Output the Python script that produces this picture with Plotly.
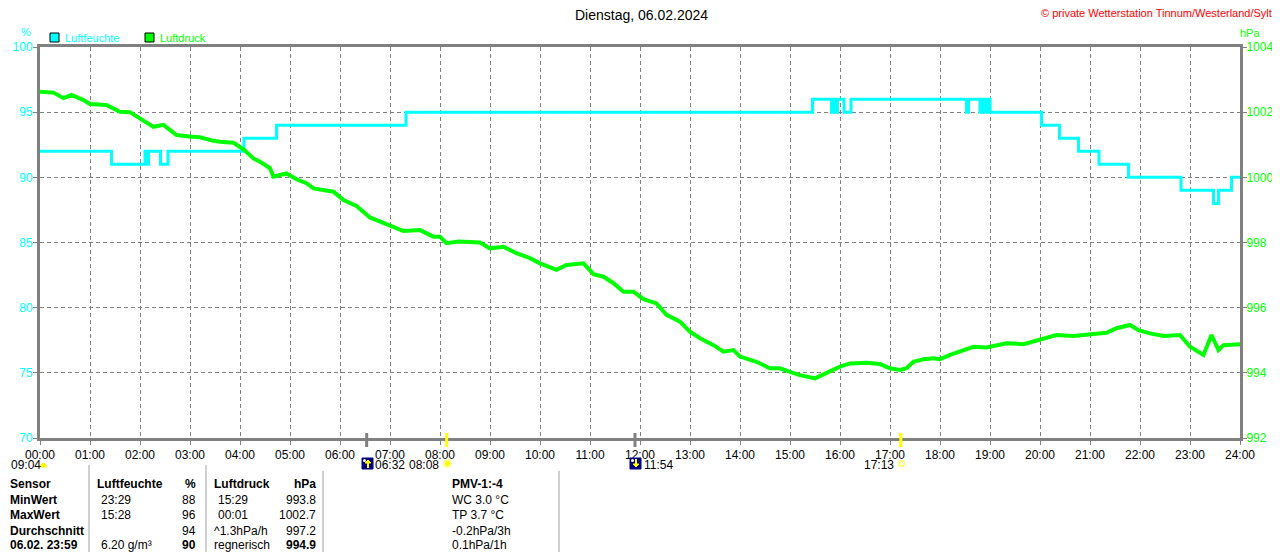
import plotly.graph_objs as go

################################## DATA ########################################
hour_ticks = [0, 1, 2, 3, 4, 5, 6, 7, 8, 9, 10, 11, 12,
              13, 14, 15, 16, 17, 18, 19, 20, 21, 22, 23, 24]
hour_labels = ['00:00', '01:00', '02:00', '03:00', '04:00', '05:00', '06:00',
               '07:00', '08:00', '09:00', '10:00', '11:00', '12:00', '13:00',
               '14:00', '15:00', '16:00', '17:00', '18:00', '19:00', '20:00',
               '21:00', '22:00', '23:00', '24:00']
hum_ticks = [70, 75, 80, 85, 90, 95, 100]
hpa_ticks = [992, 994, 996, 998, 1000, 1002, 1004]

# Luftfeuchte (%), step line
hum_time = [0.0, 1.43, 2.10, 2.14, 2.17, 2.41, 2.56, 4.08, 4.73, 7.32,
            15.45, 15.83, 15.87, 15.91, 15.95, 16.08, 16.22, 18.53, 18.57,
            18.80, 18.85, 18.90, 18.95, 19.00, 20.03, 20.39, 20.77, 21.18,
            21.77, 22.82, 23.47, 23.57, 23.83, 24.0]
hum_val = [92, 91, 92, 91, 92, 91, 92, 93, 94, 95,
           96, 95, 96, 95, 96, 95, 96, 95, 96,
           95, 96, 95, 96, 95, 94, 93, 92, 91,
           90, 89, 88, 89, 90, 90]

# Luftdruck (hPa)
hpa_time = [0.0, 0.27, 0.47, 0.63, 0.87, 1.0, 1.33, 1.6, 1.8, 2.0, 2.27, 2.47,
            2.73, 3.0, 3.2, 3.47, 3.6, 3.87, 4.07, 4.27, 4.4, 4.6, 4.67, 4.8,
            4.93, 5.13, 5.33, 5.47, 5.67, 5.87, 6.07, 6.33, 6.6, 6.93, 7.27,
            7.6, 7.87, 8.0, 8.13, 8.37, 8.6, 8.8, 9.0, 9.27, 9.53, 9.8, 10.0,
            10.33, 10.53, 10.87, 11.07, 11.27, 11.47, 11.67, 11.87, 12.07,
            12.33, 12.53, 12.8, 13.0, 13.2, 13.47, 13.67, 13.87, 14.0, 14.33,
            14.6, 14.8, 15.0, 15.2, 15.5, 15.73, 16.0, 16.2, 16.53, 16.8,
            17.0, 17.2, 17.33, 17.47, 17.67, 17.87, 18.0, 18.2, 18.4, 18.67,
            18.93, 19.13, 19.33, 19.67, 20.0, 20.33, 20.67, 21.0, 21.33,
            21.53, 21.8, 21.97, 22.2, 22.47, 22.8, 23.0, 23.27, 23.43, 23.57,
            23.67, 24.0]
hpa_val = [1002.63, 1002.60, 1002.43, 1002.53, 1002.37, 1002.25, 1002.22,
           1002.01, 1002.00, 1001.81, 1001.55, 1001.61, 1001.30, 1001.25,
           1001.23, 1001.12, 1001.09, 1001.06, 1000.86, 1000.58, 1000.48,
           1000.28, 1000.02, 1000.07, 1000.12, 999.94, 999.82, 999.66,
           999.61, 999.56, 999.30, 999.12, 998.77, 998.57, 998.35, 998.38,
           998.18, 998.18, 997.98, 998.03, 998.02, 998.00, 997.82, 997.87,
           997.67, 997.52, 997.36, 997.16, 997.31, 997.36, 997.03, 996.95,
           996.75, 996.49, 996.49, 996.26, 996.13, 995.78, 995.57, 995.26,
           995.06, 994.85, 994.65, 994.70, 994.50, 994.34, 994.14, 994.14,
           994.03, 993.93, 993.83, 993.99, 994.19, 994.29, 994.31, 994.27,
           994.14, 994.09, 994.14, 994.34, 994.42, 994.45, 994.42, 994.55,
           994.65, 994.80, 994.78, 994.85, 994.91, 994.88, 995.01, 995.16,
           995.13, 995.19, 995.23, 995.37, 995.47, 995.31, 995.21, 995.13,
           995.16, 994.80, 994.55, 995.16, 994.70, 994.85, 994.88]

# Mond auf / Sonne auf / Mond unter / Sonne unter
event_labels = ['06:32', '08:08', '11:54', '17:13']
event_colors = ['#808080', '#FFFF00', '#808080', '#FFFF00']

# Tabelle unten
table_rows = [
    ['Sensor', 'Luftfeuchte', '%', 'Luftdruck', 'hPa', 'PMV-1:-4'],
    ['MinWert', '23:29', '88', '15:29', '993.8', 'WC 3.0 °C'],
    ['MaxWert', '15:28', '96', '00:01', '1002.7', 'TP 3.7 °C'],
    ['Durchschnitt', '', '94', '^1.3hPa/h', '997.2', '-0.2hPa/3h'],
    ['06.02. 23:59', '6.20 g/m³', '90', 'regnerisch', '994.9', '0.1hPa/1h'],
]

CYAN = '#00FFFF'
GREEN = '#00FF00'
GRAY = '#808080'
FONT = 'Liberation Sans, Arial, sans-serif'

# the page body has an 8px margin, so the figure starts at (8, 8) in the window
OFFSET = 8


################################# FUNCTIONS ####################################
'''
Window pixel position -> paper coordinates (plot area is x 40..1240, y 47..438).
'''
def px(x):
    return (x - 40) / 1200.0


def py(y):
    return (438 - y) / 391.0


def text(x, y, s, color='black', size=12, anchor='left', bold=False):
    if bold:
        s = '<b>' + s + '</b>'
    return dict(x=px(x), y=py(y), xref='paper', yref='paper', text=s,
                showarrow=False, xanchor=anchor, yanchor='middle',
                font=dict(family=FONT, size=size, color=color))


def rect(x0, y0, x1, y1, fill, line='black', width=1):
    return dict(type='rect', xref='paper', yref='paper',
                x0=px(x0), x1=px(x1), y0=py(y1), y1=py(y0),
                fillcolor=fill, line=dict(color=line, width=width))


def hhmm(s):
    h, m = s.split(':')
    return int(h) + int(m) / 60.0


'''
Axes, frame and dashed grid.
'''
def chart_layout():
    axis = dict(showline=True, linecolor=GRAY, linewidth=3, mirror=True,
                ticks='outside', ticklen=4, tickcolor=GRAY, zeroline=False,
                fixedrange=True, automargin=False)
    height = 552 - OFFSET
    layout = go.Layout(
        width=1280 - OFFSET, height=height, autosize=False,
        margin=dict(l=40 - OFFSET, r=40, t=47 - OFFSET,
                    b=height - (47 - OFFSET) - 391, pad=0, autoexpand=False),
        paper_bgcolor='white', plot_bgcolor='white',
        font=dict(family=FONT, size=12, color='black'),
        showlegend=False, hovermode=False,
        xaxis=dict(axis, range=[0, 24], tickvals=hour_ticks,
                   ticktext=hour_labels, showgrid=True, gridcolor=GRAY,
                   gridwidth=1, griddash='4px,3px',
                   tickfont=dict(color='black', size=12)),
        yaxis=dict(axis, range=[70, 100], tickvals=hum_ticks, showgrid=True,
                   gridcolor=GRAY, gridwidth=1, griddash='4px,3px',
                   ticklabelstandoff=-2,
                   tickfont=dict(color=CYAN, size=12)),
        yaxis2=dict(axis, range=[992, 1004], tickvals=hpa_ticks,
                    overlaying='y', side='right', showgrid=False,
                    ticklabelstandoff=-3,
                    tickfont=dict(color=GREEN, size=12)),
    )
    return layout


def build_annotations():
    ann = []
    ann.append(text(641, 15, 'Dienstag, 06.02.2024', size=14, anchor='center'))
    ann.append(text(1274, 13, '© private Wetterstation Tinnum/Westerland/Sylt',
                    color='#FF0000', size=11, anchor='right'))
    ann.append(text(26, 32, '%', color=CYAN, size=11, anchor='center'))
    ann.append(text(1250, 33, 'hPa', color=GREEN, size=11, anchor='center'))
    ann.append(text(63, 38, 'Luftfeuchte', color=CYAN, size=11))
    ann.append(text(158, 38, 'Luftdruck', color=GREEN, size=11))

    # Zeiten unter der Achse
    ann.append(text(9, 465, '09:04'))
    ann.append(text(373, 465, event_labels[0]))
    ann.append(text(441, 465, event_labels[1], anchor='right'))
    ann.append(text(642, 465, event_labels[2]))
    ann.append(text(896, 465, event_labels[3], anchor='right'))

    # Tabelle (last row pulled up a little so it stays on the page)
    row_y = [484, 499.5, 515, 530.5, 545]
    for i, row in enumerate(table_rows):
        head = i == 0
        ann.append(text(8, row_y[i], row[0], bold=True))
        ann.append(text(95 if head else 99, row_y[i], row[1], bold=head))
        ann.append(text(198, row_y[i], row[2], anchor='right',
                        bold=head or i == 4))
        ann.append(text(212 if (head or i >= 3) else 216, row_y[i], row[3],
                        bold=head))
        ann.append(text(318, row_y[i], row[4], anchor='right',
                        bold=head or i == 4))
        ann.append(text(450, row_y[i], row[5], bold=head))
    return ann


def build_shapes():
    shapes = []
    # Legende
    shapes.append(rect(50, 33, 59, 42, CYAN))
    shapes.append(rect(145, 33, 154, 42, GREEN))

    # Ereignis-Striche auf der x-Achse
    for lab, col in zip(event_labels, event_colors):
        t = hhmm(lab)
        shapes.append(dict(type='line', xref='x', yref='paper', x0=t, x1=t,
                           y0=py(447), y1=py(433),
                           line=dict(color=col, width=3)))

    # Symbole
    shapes.append(dict(type='path', xref='paper', yref='paper',
                       path='M {} {} Q {} {} {} {} Z'.format(
                           px(40), py(467), px(43), py(459), px(47), py(467)),
                       fillcolor='#FFFF00', line=dict(color='#FFFF00', width=1)))
    for x0, up in [(362, True), (630, False)]:
        shapes.append(rect(x0, 458, x0 + 11, 469, '#000080', line='#000080'))
        shapes.append(dict(type='circle', xref='paper', yref='paper',
                           x0=px(x0 + 1), x1=px(x0 + 4), y0=py(462), y1=py(459),
                           fillcolor='white', line=dict(color='white', width=0)))
        tip, tail = (460, 468) if up else (467, 459)
        shapes.append(dict(type='line', xref='paper', yref='paper',
                           x0=px(x0 + 6), x1=px(x0 + 6), y0=py(tail), y1=py(tip),
                           line=dict(color='#FFFF00', width=2)))
        shapes.append(dict(type='path', xref='paper', yref='paper',
                           path='M {} {} L {} {} L {} {} Z'.format(
                               px(x0 + 3), py(tip + (3 if up else -3)),
                               px(x0 + 9), py(tip + (3 if up else -3)),
                               px(x0 + 6), py(tip)),
                           fillcolor='#FFFF00', line=dict(color='#FFFF00', width=1)))
    shapes.append(dict(type='circle', xref='paper', yref='paper',
                       x0=px(444), x1=px(451), y0=py(467), y1=py(460),
                       fillcolor='#FFFF00', line=dict(color='#FFFF99', width=2)))
    shapes.append(rect(899, 461, 904, 466, 'white', line='#FFFF00'))

    # Tabellen-Trennlinien
    for x, y0 in [(89, 465), (206, 465), (323, 471), (559, 471)]:
        shapes.append(dict(type='line', xref='paper', yref='paper',
                           x0=px(x), x1=px(x), y0=py(552), y1=py(y0),
                           line=dict(color='#A0A0A0', width=1)))
    return shapes


################################## PLOT ########################################
hum_trace = go.Scatter(x=hum_time, y=hum_val, mode='lines', name='Luftfeuchte',
                       line=dict(color=CYAN, width=3, shape='hv'), yaxis='y')
hpa_trace = go.Scatter(x=hpa_time, y=hpa_val, mode='lines', name='Luftdruck',
                       line=dict(color=GREEN, width=4), yaxis='y2')

fig = go.Figure(data=[hum_trace, hpa_trace], layout=chart_layout())
fig.update_layout(annotations=build_annotations(), shapes=build_shapes())
fig.write_html('out.html')
